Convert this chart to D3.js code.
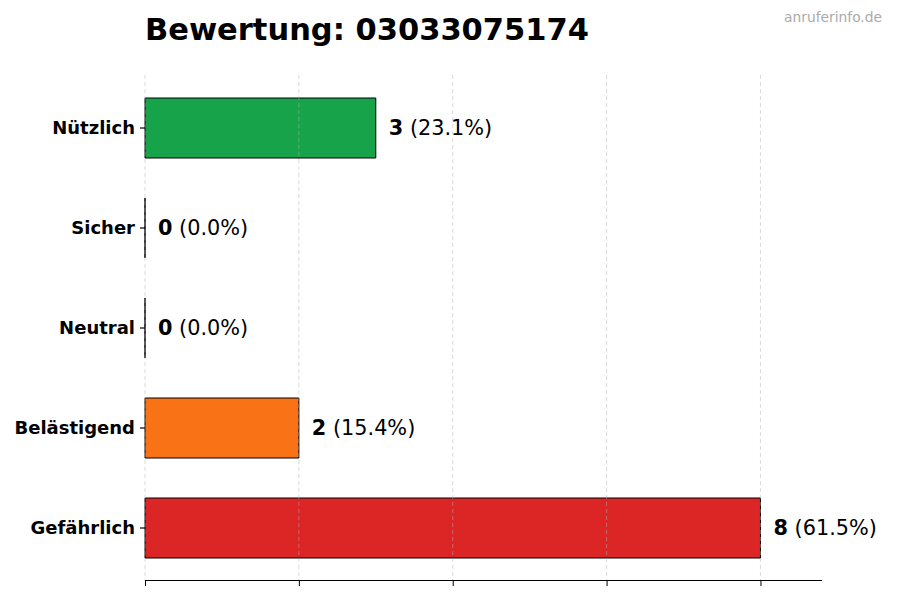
<!DOCTYPE html>
<html>
<head>
<meta charset="utf-8">
<script src="https://cdn.jsdelivr.net/npm/d3@7"></script>
<style>
  body { margin: 0; background: #fff; }
  svg { font-family: "DejaVu Sans", sans-serif; }
</style>
</head>
<body>
<div id="chart"></div>
<script>
// data
var categories = ["Nützlich", "Sicher", "Neutral", "Belästigend", "Gefährlich"];
var counts = [3, 0, 0, 2, 8];
var percents = ["23.1%", "0.0%", "0.0%", "15.4%", "61.5%"];
var colors = ["#16a34a", "#16a34a", "#6b7280", "#f97316", "#dc2626"];
var xTicks = [0, 2, 4, 6, 8];

var width = 900, height = 600;
var plotLeft = 145, plotRight = 822, plotTop = 75, plotBottom = 581;

var svg = d3.select("#chart")
  .append("svg")
  .attr("width", width)
  .attr("height", height);

var x = d3.scaleLinear()
  .domain([0, d3.max(counts) * 1.1])
  .range([plotLeft, plotRight]);

var y = d3.scaleBand()
  .domain(categories)
  .range([plotTop, plotBottom])
  .paddingInner(0.4)
  .paddingOuter(0.23);

// bars as paths so zero-width bars still show their edge
svg.append("g")
  .selectAll("path")
  .data(categories)
  .enter()
  .append("path")
  .attr("d", function(d, i) {
    var x0 = x(0), x1 = x(counts[i]), y0 = y(d), y1 = y(d) + y.bandwidth();
    return "M" + x0 + "," + y0 + "H" + x1 + "V" + y1 + "H" + x0 + "Z";
  })
  .attr("fill", function(d, i) { return colors[i]; })
  .attr("stroke", "#000")
  .attr("stroke-width", 1);

// grid lines (drawn above the bars, like the reference)
svg.append("g")
  .selectAll("line")
  .data(xTicks)
  .enter()
  .append("line")
  .attr("x1", function(d) { return x(d); })
  .attr("x2", function(d) { return x(d); })
  .attr("y1", plotTop)
  .attr("y2", plotBottom)
  .attr("stroke", "#b0b0b0")
  .attr("stroke-opacity", 0.6)
  .attr("stroke-width", 0.8)
  .attr("stroke-dasharray", "4,3");

// x axis, no labels
var xAxis = d3.axisBottom(x).tickValues(xTicks).tickFormat("").tickSize(6).tickSizeOuter(0);
var gx = svg.append("g")
  .attr("transform", "translate(0," + (plotBottom - 1) + ")")
  .call(xAxis);
gx.select(".domain").attr("stroke", "#000").attr("d", "M" + plotLeft + ",0.5H" + plotRight);
gx.selectAll(".tick line").attr("stroke", "#000");

// y axis, only ticks and labels
var yAxis = d3.axisLeft(y).tickSize(5).tickPadding(5).tickSizeOuter(0);
var gy = svg.append("g")
  .attr("transform", "translate(" + plotLeft + ",0)")
  .call(yAxis);
gy.select(".domain").remove();
gy.selectAll(".tick line").attr("stroke", "#000").attr("stroke-width", 1.2);
gy.selectAll(".tick text")
  .attr("font-family", "DejaVu Sans")
  .attr("font-size", "18px")
  .attr("font-weight", "bold")
  .attr("fill", "#000");

// value labels
var labels = svg.append("g")
  .selectAll("text")
  .data(categories)
  .enter()
  .append("text")
  .attr("x", function(d, i) { return x(counts[i]) + 13; })
  .attr("y", function(d) { return y(d) + y.bandwidth() / 2; })
  .attr("dy", "0.35em")
  .attr("font-size", "20.8px")
  .attr("fill", "#000");
labels.append("tspan")
  .attr("font-weight", "bold")
  .text(function(d, i) { return counts[i]; });
labels.append("tspan")
  .text(function(d, i) { return " (" + percents[i] + ")"; });

// title
svg.append("text")
  .attr("x", plotLeft)
  .attr("y", 40)
  .attr("font-size", "30.5px")
  .attr("font-weight", "bold")
  .attr("fill", "#000")
  .text("Bewertung: 03033075174");

// watermark
svg.append("text")
  .attr("x", 882)
  .attr("y", 22)
  .attr("text-anchor", "end")
  .attr("font-size", "13.8px")
  .attr("fill", "#aaaaaa")
  .text("anruferinfo.de");
</script>
</body>
</html>
